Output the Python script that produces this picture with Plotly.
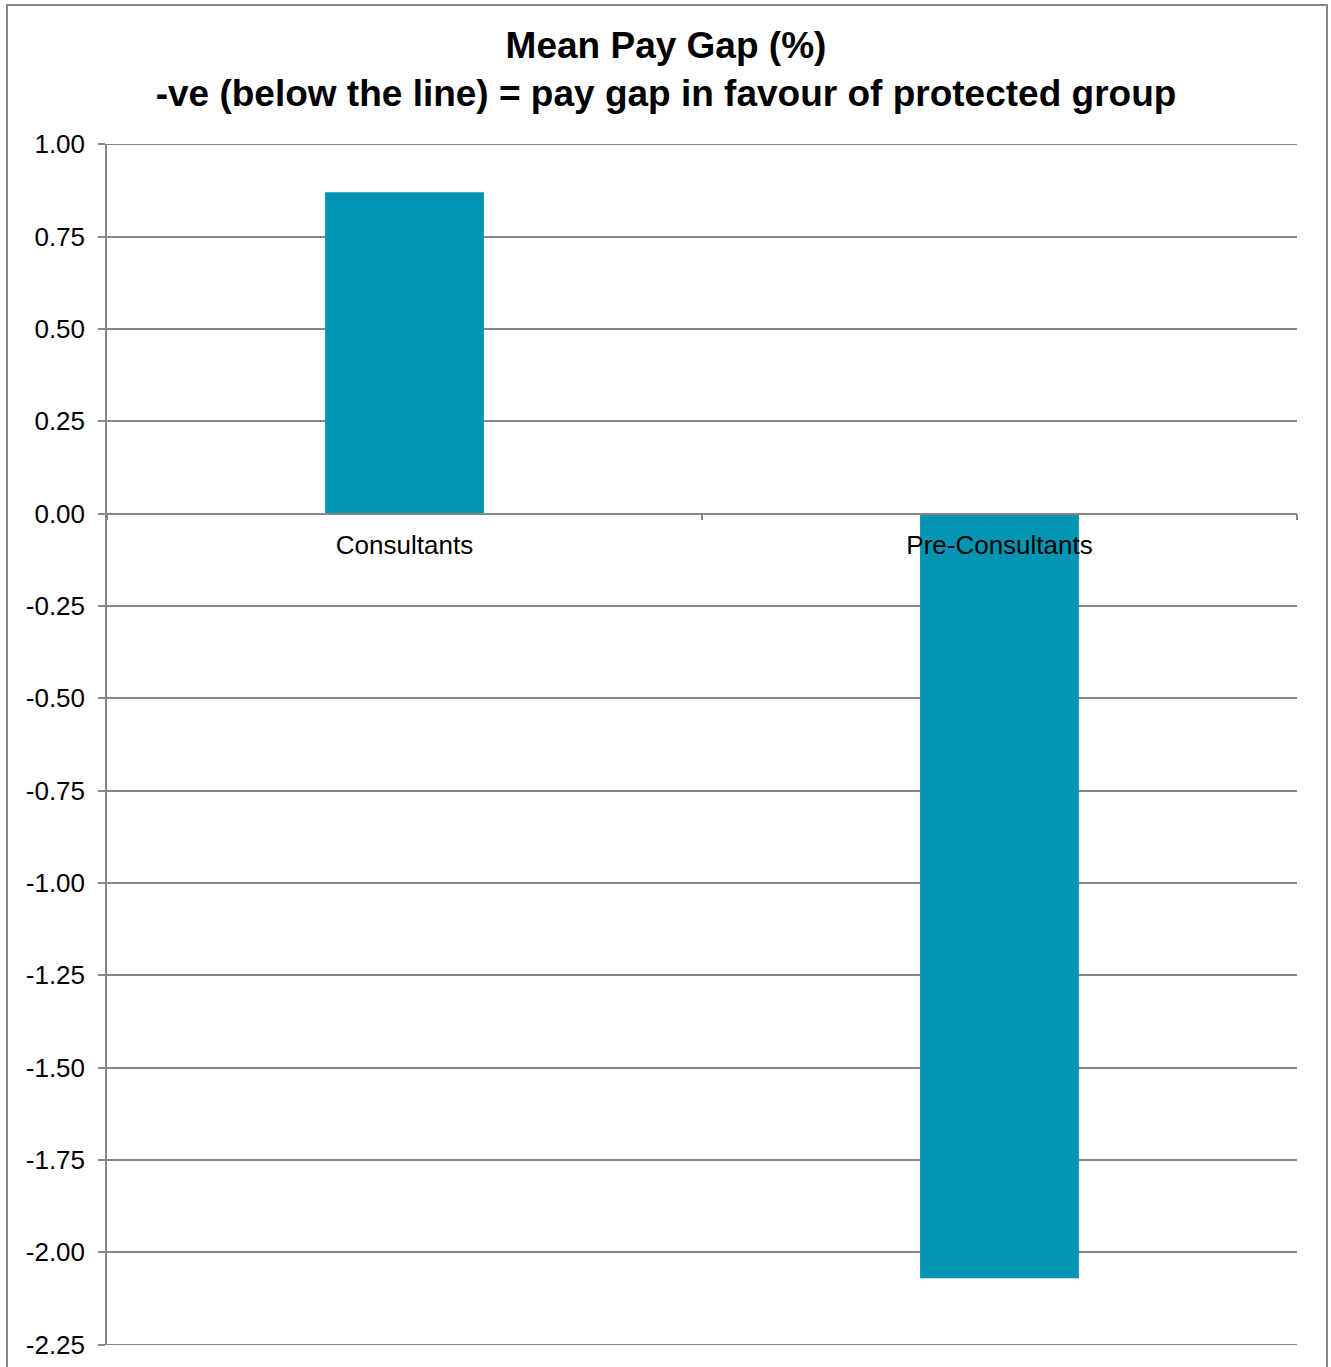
import plotly.graph_objects as go

categories = ["Consultants", "Pre-Consultants"]
mean_pay_gap = [0.87, -2.07]
y_tick_values = [1.00, 0.75, 0.50, 0.25, 0.00, -0.25, -0.50, -0.75, -1.00,
                 -1.25, -1.50, -1.75, -2.00, -2.25]
y_tick_labels = [f"{v:.2f}" for v in y_tick_values]

W, H = 1331, 1367
L, R, T, B = 107, 34, 144, 22
FONT = "Liberation Sans, Arial, sans-serif"
GRID = "#878787"

fig = go.Figure(
    go.Bar(x=categories, y=mean_pay_gap, marker=dict(color="#0095B3", line=dict(width=0)))
)

ymin, ymax = -2.25, 1.0
eps = 0.0008
zero_pos = (0 - (ymin - eps)) / ((ymax + eps) - (ymin - eps))

fig.update_layout(
    width=W, height=H,
    margin=dict(l=L, r=R, t=T, b=B, autoexpand=False),
    paper_bgcolor="white", plot_bgcolor="white",
    bargap=0.733,
    showlegend=False,
    font=dict(family=FONT, color="black"),
    title=dict(
        text="<b>Mean Pay Gap (%)</b><br><b>-ve (below the line) = pay gap in favour of protected group</b>",
        x=(666) / W, xanchor="center",
        y=1 - 58 / H, yanchor="middle", yref="container",
        font=dict(family=FONT, size=37, color="black"),
    ),
    xaxis=dict(
        anchor="free", position=zero_pos,
        showline=True, linecolor=GRID, linewidth=1.5,
        ticks="outside", tickson="boundaries", ticklen=6, tickcolor=GRID, tickwidth=1.5,
        tickfont=dict(family=FONT, size=26, color="black"),
        ticklabelstandoff=8,
        showgrid=False, zeroline=False,
    ),
    yaxis=dict(
        range=[ymin - eps, ymax + eps],
        tickvals=y_tick_values, ticktext=y_tick_labels,
        showline=True, linecolor=GRID, linewidth=1.5,
        ticks="outside", ticklen=7, tickcolor=GRID, tickwidth=1.5,
        tickfont=dict(family=FONT, size=26, color="black"),
        ticklabelstandoff=8,
        showgrid=True, gridcolor=GRID, gridwidth=1.5,
        zeroline=False,
    ),
    shapes=[
        dict(
            type="rect", xref="paper", yref="paper",
            x0=(7 - L) / (W - L - R), x1=(1327 - L) / (W - L - R),
            y0=(H - B - 1372) / (H - T - B), y1=(H - B - 5) / (H - T - B),
            line=dict(color=GRID, width=2), fillcolor="rgba(0,0,0,0)", layer="below",
        ),
        # gridlines at the range ends (Plotly drops them at the plot edges)
        dict(type="line", xref="paper", yref="y", x0=0, x1=1, y0=ymax, y1=ymax,
             line=dict(color=GRID, width=1.5), layer="below"),
        dict(type="line", xref="paper", yref="y", x0=0, x1=1, y0=ymin, y1=ymin,
             line=dict(color=GRID, width=1.5), layer="below"),
    ],
)

fig.write_html("out.html", config={"displayModeBar": False},
               post_script="document.body.style.margin='0';")
